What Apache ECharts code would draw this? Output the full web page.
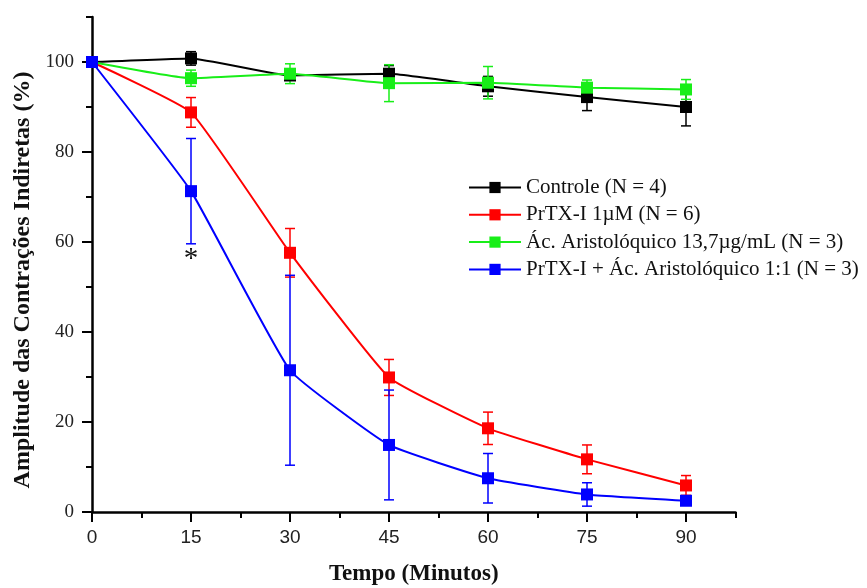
<!DOCTYPE html>
<html>
<head>
<meta charset="utf-8">
<script src="https://cdn.jsdelivr.net/npm/echarts@6/dist/echarts.min.js"></script>
<style>
  html, body { margin: 0; padding: 0; background: #fff; }
  #chart { width: 867px; height: 588px; }
</style>
</head>
<body>
<div id="chart"></div>
<script>
// Time points (minutes)
const minutes = [0, 15, 30, 45, 60, 75, 90];

// Mean amplitude (%) and error for each group
const controle      = [100, 100.8, 97.0, 97.4, 94.6, 92.2, 90.0];
const controleErr   = [0, 1.5, 1.0, 1.8, 2.2, 3.0, 4.2];
const prtx          = [100, 88.8, 57.6, 29.9, 18.6, 11.7, 5.9];
const prtxErr       = [0, 3.3, 5.4, 4.0, 3.6, 3.2, 2.2];
const acido         = [100, 96.4, 97.4, 95.3, 95.4, 94.3, 93.9];
const acidoErr      = [0, 1.8, 2.2, 4.1, 3.6, 1.7, 2.2];
const mistura       = [100, 71.3, 31.5, 14.9, 7.5, 3.9, 2.5];
const misturaErr    = [0, 11.7, 21.1, 12.2, 5.5, 2.6, 1.0];

// Series names and colours
const names  = [
  'Controle (N = 4)',
  'PrTX-I 1µM (N = 6)',
  'Ác. Aristolóquico 13,7µg/mL (N = 3)',
  'PrTX-I + Ác. Aristolóquico 1:1 (N = 3)'
];
const colors = ['#000000', '#ff0000', '#18ee18', '#0000ff'];

// Labelled ticks
const xMajorTicks = [0, 15, 30, 45, 60, 75, 90];
const yMajorTicks = [0, 20, 40, 60, 80, 100];

const pairs = (ys) => minutes.map((m, i) => [m, ys[i]]);
const bars = (ys, es) => minutes.map((m, i) => [m, ys[i] - es[i], ys[i] + es[i]]);

function errorBarSeries(ys, es, color) {
  return {
    type: 'custom',
    silent: true,
    data: bars(ys, es),
    encode: { x: 0, y: [1, 2] },
    renderItem: function (params, api) {
      const x = api.value(0);
      const lo = api.coord([x, api.value(1)]);
      const hi = api.coord([x, api.value(2)]);
      const half = 5;
      const style = { stroke: color, lineWidth: 1.5, fill: null };
      return {
        type: 'group',
        children: [
          { type: 'line', shape: { x1: lo[0], y1: lo[1], x2: hi[0], y2: hi[1] }, style },
          { type: 'line', shape: { x1: hi[0] - half, y1: hi[1], x2: hi[0] + half, y2: hi[1] }, style },
          { type: 'line', shape: { x1: lo[0] - half, y1: lo[1], x2: lo[0] + half, y2: lo[1] }, style }
        ]
      };
    }
  };
}

function lineSeries(name, ys, color, extra) {
  return Object.assign({
    name: name,
    type: 'line',
    data: pairs(ys),
    smooth: 0.12,
    symbol: 'rect',
    symbolSize: 12,
    itemStyle: { color: color },
    lineStyle: { color: color, width: 2 }
  }, extra || {});
}

const groups = [
  [controle, controleErr],
  [prtx, prtxErr],
  [acido, acidoErr],
  [mistura, misturaErr]
];

const series = [];
groups.forEach(([ys, es], i) => {
  series.push(errorBarSeries(ys, es, colors[i]));
  const extra = i === 3 ? {
    // significance mark under the 15-minute point
    markPoint: {
      symbol: 'circle',
      symbolSize: 1,
      itemStyle: { color: 'rgba(0,0,0,0)' },
      label: {
        show: true, position: 'inside', formatter: '*',
        color: '#111', fontSize: 29, fontFamily: 'Liberation Serif'
      },
      data: [{ coord: [15, 56.1] }]
    }
  } : null;
  series.push(lineSeries(names[i], ys, colors[i], extra));
});

const axisLineStyle = { color: '#000', width: 2.5 };

const option = {
  animation: false,
  backgroundColor: '#fff',
  grid: { left: 92, right: 131.5, top: 17, bottom: 76, outerBoundsMode: 'none', containLabel: false },
  legend: {
    data: names,
    orient: 'vertical',
    left: 463,
    top: 172,
    itemWidth: 52,
    itemHeight: 14,
    itemGap: 6.3,
    textStyle: { fontFamily: 'Liberation Serif', fontSize: 21, color: '#111' }
  },
  xAxis: [
    {
      type: 'value', position: 'bottom',
      min: 0, max: 97.5, interval: 7.5,
      name: 'Tempo (Minutos)', nameLocation: 'middle', nameGap: 51,
      nameTextStyle: { fontFamily: 'Liberation Serif', fontWeight: 'bold', fontSize: 23, color: '#111' },
      axisLine: { onZero: false, lineStyle: axisLineStyle },
      axisTick: { length: 6, lineStyle: { color: '#000', width: 2 } },
      axisLabel: {
        formatter: (v) => (xMajorTicks.indexOf(v) >= 0 ? String(v) : ''),
        fontFamily: 'Liberation Sans', fontSize: 19, color: '#222', margin: 16
      },
      splitLine: { show: false }
    },
    {
      type: 'value', position: 'bottom',
      min: 0, max: 97.5, interval: 15,
      axisLine: { show: false, onZero: false },
      axisTick: { customValues: xMajorTicks, length: 10, lineStyle: { color: '#000', width: 2 } },
      axisLabel: { show: false },
      splitLine: { show: false }
    }
  ],
  yAxis: [
    {
      type: 'value', position: 'left',
      min: 0, max: 110, interval: 10,
      axisLine: { show: true, onZero: false, lineStyle: axisLineStyle },
      axisTick: { show: true, length: 6, lineStyle: { color: '#000', width: 2 } },
      axisLabel: {
        formatter: (v) => (yMajorTicks.indexOf(v) >= 0 ? String(v) : ''),
        fontFamily: 'Liberation Serif', fontSize: 19, color: '#222', margin: 18
      },
      splitLine: { show: false }
    },
    {
      type: 'value', position: 'left',
      min: 0, max: 110, interval: 20,
      axisLine: { show: false, onZero: false },
      axisTick: { show: true, customValues: yMajorTicks, length: 10, lineStyle: { color: '#000', width: 2 } },
      axisLabel: { show: false },
      splitLine: { show: false }
    }
  ],
  graphic: [
    {
      type: 'text',
      x: 23, y: 280,
      rotation: Math.PI / 2,
      style: {
        text: 'Amplitude das Contrações Indiretas (%)',
        fontFamily: 'Liberation Serif', fontWeight: 'bold', fontSize: 24,
        fill: '#111', align: 'center', verticalAlign: 'middle'
      }
    }
  ],
  series: series
};

const chart = echarts.init(document.getElementById('chart'), null, { renderer: 'canvas' });
chart.setOption(option);
</script>
</body>
</html>
